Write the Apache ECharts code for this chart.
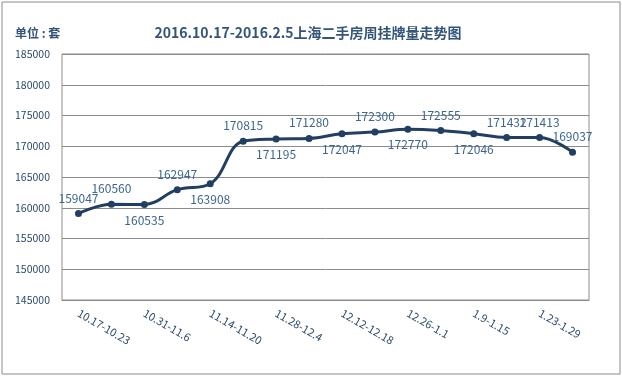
<!DOCTYPE html>
<html>
<head>
<meta charset="utf-8">
<script src="https://cdn.jsdelivr.net/npm/echarts@6/dist/echarts.min.js"></script>
<style>
  html, body { margin: 0; padding: 0; background: #fff; }
  #main { width: 622px; height: 376px; }
</style>
</head>
<body>
<div id="main"></div>
<script>
// 周次
var weeks = ['10.17-10.23', '10.24-10.30', '10.31-11.6', '11.7-11.13', '11.14-11.20', '11.21-11.27',
  '11.28-12.4', '12.5-12.11', '12.12-12.18', '12.19-12.25', '12.26-1.1', '1.2-1.8',
  '1.9-1.15', '1.16-1.22', '1.23-1.29', '1.30-2.5'];
// 挂牌量
var listings = [159047, 160560, 160535, 162947, 163908, 170815, 171195, 171280,
  172047, 172300, 172770, 172555, 172046, 171432, 171413, 169037];
// 数据标签上下位置
var labelPos = ['top', 'top', 'bottom', 'top', 'bottom', 'top', 'bottom', 'top',
  'bottom', 'top', 'bottom', 'top', 'bottom', 'top', 'top', 'top'];

var chart = echarts.init(document.getElementById('main'));
var font = '"Noto Sans CJK SC", "Noto Sans", sans-serif';

chart.setOption({
  animation: false,
  textStyle: { fontFamily: font },
  title: [{
    text: '2016.10.17-2016.2.5上海二手房周挂牌量走势图',
    left: 303, top: 21, textAlign: 'center',
    textStyle: { fontSize: 14, fontWeight: 'bold', color: '#34557a', fontFamily: font }
  }, {
    text: '单位 : 套',
    left: 10, top: 22,
    textStyle: { fontSize: 12, fontWeight: 'bold', color: '#34557a', fontFamily: font }
  }],
  graphic: [{
    type: 'rect',
    shape: { x: 2, y: 2, width: 618, height: 372 },
    style: { fill: 'none', stroke: '#8c8c8c', lineWidth: 1 },
    silent: true
  }],
  grid: {
    left: 62, right: 33, top: 54, bottom: 76,
    show: true, borderColor: '#8c8c8c', borderWidth: 1
  },
  xAxis: {
    type: 'category',
    data: weeks,
    boundaryGap: true,
    axisLine: { lineStyle: { color: '#8c8c8c' } },
    axisTick: { length: 4, lineStyle: { color: '#8c8c8c' } },
    axisLabel: {
      interval: 1, rotate: -30, margin: 12,
      fontSize: 11, color: '#2b4a6b'
    }
  },
  yAxis: {
    type: 'value',
    min: 145000, max: 185000, interval: 5000,
    axisLine: { show: false },
    axisTick: { show: false },
    splitLine: { lineStyle: { color: '#8c8c8c', width: 1 } },
    axisLabel: {
      fontSize: 10.5, color: '#2b4a6b', margin: 12,
      formatter: function (v) { return String(v); }
    }
  },
  series: [{
    type: 'line',
    smooth: 0.4,
    data: listings.map(function (v, i) {
      return { value: v, label: { position: labelPos[i] } };
    }),
    symbol: 'circle',
    symbolSize: 7,
    lineStyle: { color: '#213f60', width: 3 },
    itemStyle: { color: '#213f60' },
    label: {
      show: true, fontSize: 12, color: '#3d6690', distance: 6
    }
  }]
});
</script>
</body>
</html>
